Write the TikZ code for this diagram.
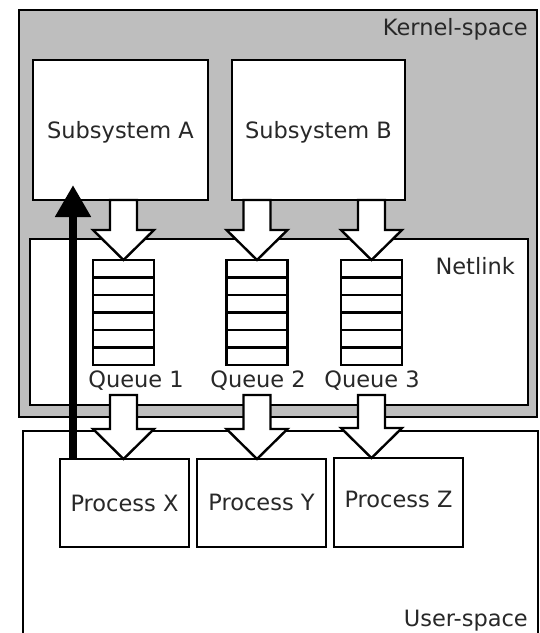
\documentclass[tikz,border=0pt]{standalone}
\usepackage{fontspec}
\setmainfont{DejaVu Sans}
\usetikzlibrary{arrows.meta,calc}
\definecolor{kernelgray}{RGB}{190,190,190}
\definecolor{inkgray}{RGB}{40,40,40}
\newcommand\lblfont{\fontsize{22.5}{26}\selectfont}
% hollow block arrow: shaft starts at #1, tip at #2 (pointing down)
\newcommand\fatarrow[2]{%
  \draw[fat] ($(#1)+(-13.5,0)$) -- ($(#2)+(-13.5,-30)$) -- ($(#2)+(-30.5,-30)$)
    -- (#2) -- ($(#2)+(30.5,-30)$) -- ($(#2)+(13.5,-30)$) -- ($(#1)+(13.5,0)$) -- cycle;}
\begin{document}
\begin{tikzpicture}[x=1pt,y=-1pt,
  area/.style={draw=black,line width=2.6pt,rectangle,inner sep=0pt,outer sep=0pt,anchor=north west},
  box/.style={draw=black,line width=2.4pt,fill=white,rectangle,inner sep=0pt,outer sep=0pt,
    anchor=north west,font=\lblfont,text=inkgray,text height=16pt,text depth=0pt},
  queue/.style={draw=black,line width=2.4pt,fill=white,rectangle,inner sep=0pt,outer sep=0pt,
    anchor=north,minimum width=61pt,minimum height=105pt},
  qline/.style={draw=black,line width=2.2pt},
  tag/.style={font=\lblfont,text=inkgray,inner sep=0pt},
  fat/.style={draw=black,fill=white,line width=2.4pt,line join=miter},
  thickarrow/.style={draw=black,line width=8pt,-{Triangle[width=34pt,length=32pt]}}]
\useasboundingbox (0,0) rectangle (540,633);
\clip (0,0) rectangle (540,633);

% kernel space with its subsystems
\node[area,fill=kernelgray,minimum width=518pt,minimum height=407pt] (kernel) at (19,10) {};
\node[tag,anchor=base east] (kernellbl) at (528,35) {Kernel-space};
\node[box,minimum width=175pt,minimum height=140pt] (subA) at (33,60) {Subsystem A};
\node[box,minimum width=173pt,minimum height=140pt] (subB) at (232,60) {Subsystem B};

% netlink layer with its queues
\node[area,fill=white,line width=2.4pt,minimum width=498pt,minimum height=166pt] (netlink) at (30,239) {};
\node[tag,anchor=base east] (netlinklbl) at (515,274) {Netlink};
\node[queue] (q1) at (123.5,260) {};
\node[queue] (q2) at (257,260) {};
\node[queue] (q3) at (371.5,260) {};
\foreach \q in {q1,q2,q3}
  \foreach \f in {1,...,5}
    \draw[qline] ($(\q.north west)!\f/6!(\q.south west)$) -- ($(\q.north east)!\f/6!(\q.south east)$);
\node[tag,anchor=base] (ql1) at (136,387) {Queue 1};
\node[tag,anchor=base] (ql2) at (258,387) {Queue 2};
\node[tag,anchor=base] (ql3) at (372,387) {Queue 3};

% user space with its processes
\node[area,fill=white,line width=2.4pt,minimum width=515pt,minimum height=230pt] (user) at (23,431) {};
\node[tag,anchor=base east] (userlbl) at (528,626) {User-space};
\node[box,minimum width=129pt,minimum height=88pt] (px) at (60,459) {Process X};
\node[box,minimum width=129pt,minimum height=88pt] (py) at (197,459) {\raisebox{1pt}{Process Y}};
\node[box,minimum width=129pt,minimum height=89pt] (pz) at (334,458) {\raisebox{3pt}{Process Z}};

% block arrows: subsystems to queues, queues to processes
\coordinate (a1) at (q1.north |- subA.south);
\coordinate (a2) at (q2.north |- subB.south);
\coordinate (a3) at (q3.north |- subB.south);
\fatarrow{a1}{q1.north}
\fatarrow{a2}{q2.north}
\fatarrow{a3}{q3.north}
\coordinate (b1) at ($(q1.south)+(0,30)$);
\coordinate (b2) at ($(q2.south)+(0,30)$);
\coordinate (b3) at ($(q3.south)+(0,30)$);
\coordinate (t1) at (q1.south |- px.north);
\coordinate (t2) at (q2.south |- py.north);
\coordinate (t3) at (q3.south |- pz.north);
\fatarrow{b1}{t1}
\fatarrow{b2}{t2}
\fatarrow{b3}{t3}

% direct message from Process X up to Subsystem A
\coordinate (upTip) at (73,185);
\draw[thickarrow] (upTip |- px.north) -- (upTip);
\end{tikzpicture}
\end{document}
